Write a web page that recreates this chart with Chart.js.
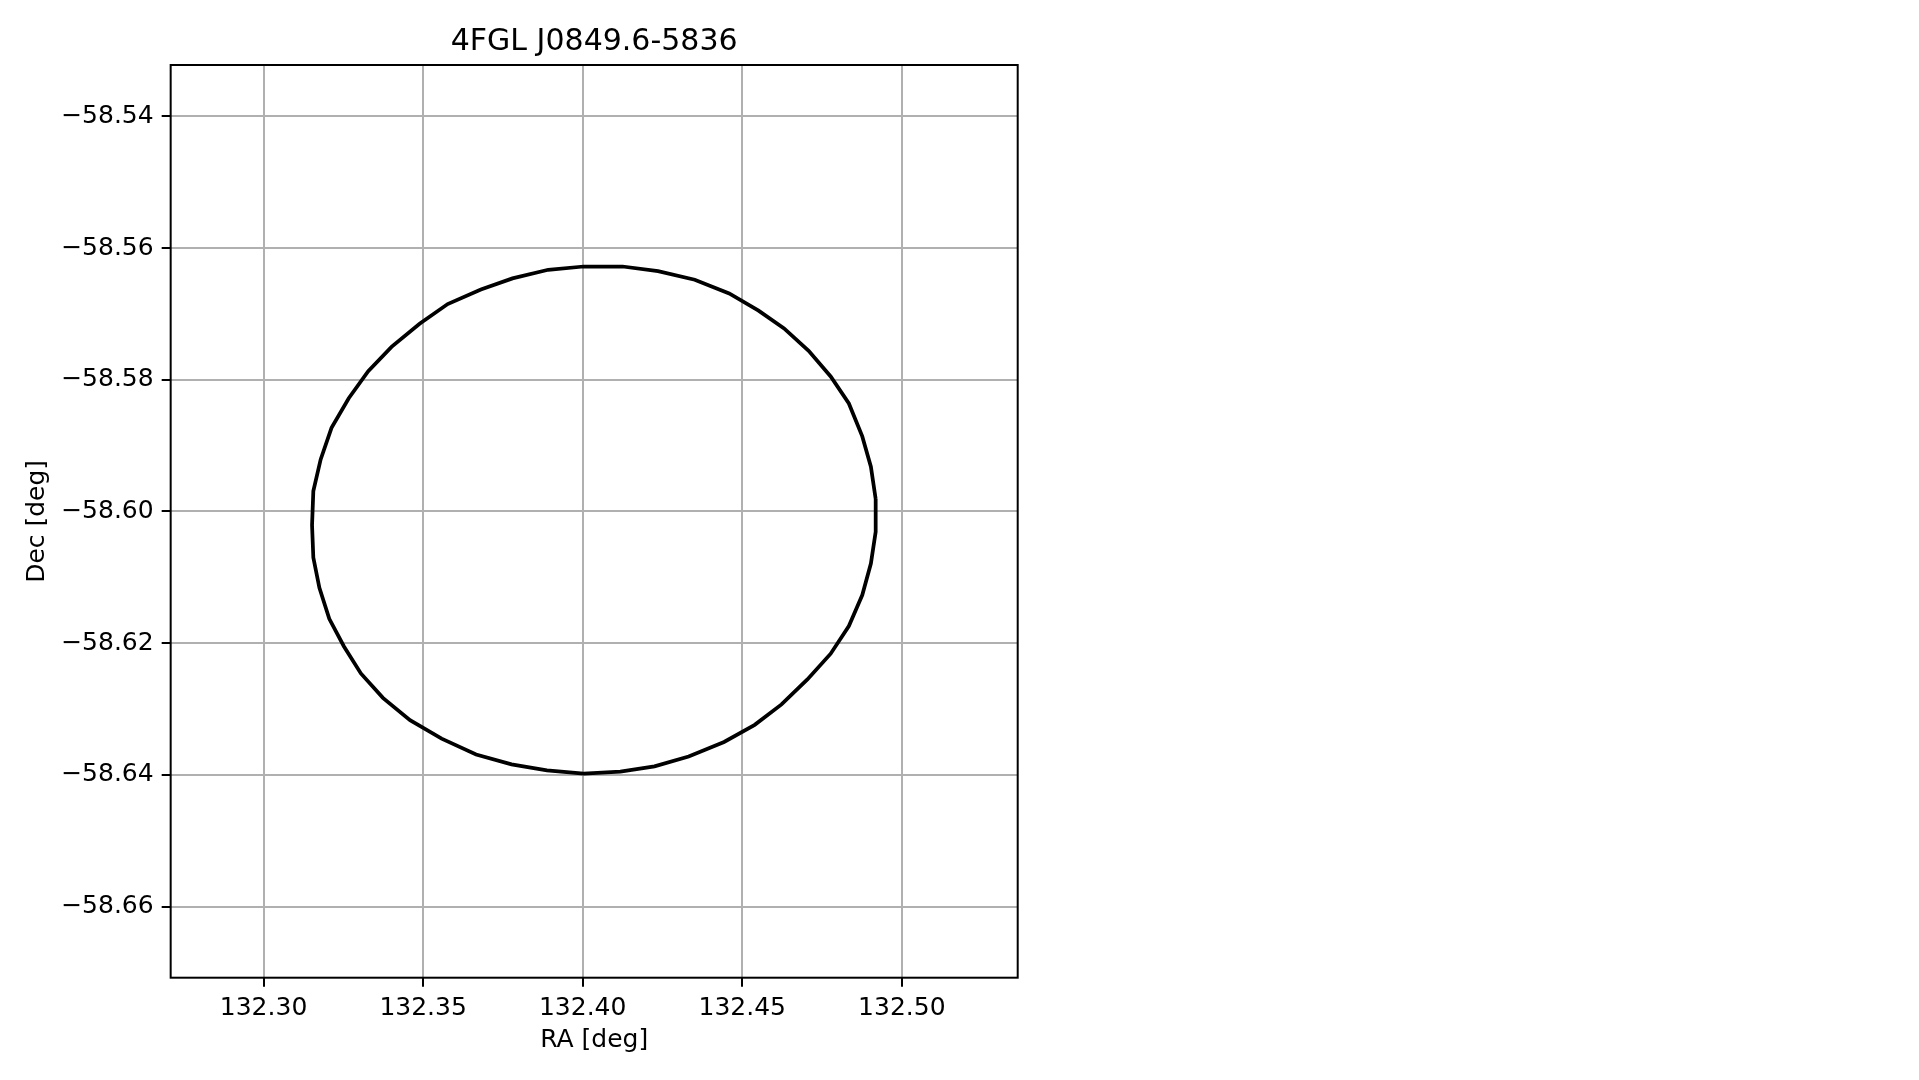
<!DOCTYPE html>
<html>
<head>
<meta charset="utf-8">
<script src="https://cdn.jsdelivr.net/npm/chart.js@4"></script>
<style>
  body { margin: 0; background: #fff; }
  canvas { display: block; }
</style>
</head>
<body>
<canvas id="chart" width="1919" height="1080"></canvas>
<script>
const title = "4FGL J0849.6-5836";

// ellipse outline (closed: last point = first)
const ra = [
  132.4918, 132.4903, 132.4876, 132.4834, 132.4777, 132.4708, 132.4631, 132.4551,
  132.4459, 132.4351, 132.4236, 132.4125, 132.4003, 132.3892, 132.3780, 132.3681,
  132.3577, 132.3489, 132.3401, 132.3328, 132.3267, 132.3213, 132.3179, 132.3156,
  132.3152, 132.3156, 132.3175, 132.3206, 132.3252, 132.3305, 132.3374, 132.3459,
  132.3558, 132.3666, 132.3777, 132.3888, 132.4003, 132.4118, 132.4225, 132.4332,
  132.4443, 132.4539, 132.4623, 132.4704, 132.4777, 132.4834, 132.4876, 132.4903,
  132.4918, 132.4918
];
const dec = [
  -58.5981, -58.5932, -58.5886, -58.5836, -58.5795, -58.5756, -58.5722, -58.5695,
  -58.5669, -58.5648, -58.5635, -58.5628, -58.5628, -58.5633, -58.5646, -58.5663,
  -58.5685, -58.5715, -58.5750, -58.5787, -58.5828, -58.5873, -58.5921, -58.5969,
  -58.6021, -58.6070, -58.6116, -58.6163, -58.6205, -58.6246, -58.6283, -58.6317,
  -58.6345, -58.6369, -58.6384, -58.6393, -58.6398, -58.6395, -58.6387, -58.6372,
  -58.6350, -58.6324, -58.6293, -58.6255, -58.6216, -58.6174, -58.6127, -58.6079,
  -58.6031, -58.5981
];

const raTicks = [132.30, 132.35, 132.40, 132.45, 132.50];
const decTicks = [-58.54, -58.56, -58.58, -58.60, -58.62, -58.64, -58.66];
const raLimits = [132.2709, 132.5363];
const decLimits = [-58.6708, -58.5322];

const points = ra.map((x, i) => ({ x: x, y: dec[i] }));

// black box round the plot area, like matplotlib spines
const frame = {
  id: "frame",
  afterDatasetsDraw(chart) {
    const { ctx, chartArea: a } = chart;
    ctx.save();
    ctx.strokeStyle = "#000";
    ctx.lineWidth = 2;
    ctx.strokeRect(a.left, a.top, a.right - a.left, a.bottom - a.top);
    ctx.restore();
  }
};

Chart.defaults.font.family = "'DejaVu Sans', sans-serif";
Chart.defaults.color = "#000";

const gridStyle = {
  color: "#b0b0b0",
  lineWidth: 2,
  tickColor: "#000",
  tickWidth: 2,
  tickLength: 9,
};

const ctx = document.getElementById("chart");
const myChart = new Chart(ctx, {
  type: "scatter",
  data: {
    datasets: [
      {
        data: points,
        showLine: true,
        borderColor: "#000",
        borderWidth: 3.75,
        pointRadius: 0,
        fill: false,
        tension: 0,
      },
    ],
  },
  options: {
    responsive: false,
    animation: false,
    devicePixelRatio: 1,
    layout: {
      padding: { left: 0, right: 901.3, top: 0, bottom: 0 },
    },
    scales: {
      x: {
        type: "linear",
        position: "bottom",
        min: raLimits[0],
        max: raLimits[1],
        afterBuildTicks: (s) => { s.ticks = raTicks.map((v) => ({ value: v })); },
        afterFit: (s) => { s.height = 102.3; },
        ticks: {
          font: { size: 25 },
          color: "#000",
          padding: 6.5,
          maxRotation: 0,
          autoSkip: false,
          callback: (v) => v.toFixed(2),
        },
        grid: gridStyle,
        border: { display: false },
        title: {
          display: true,
          text: "RA [deg]",
          font: { size: 25 },
          color: "#000",
          padding: { top: 0, bottom: 25 },
        },
      },
      y: {
        type: "linear",
        position: "left",
        min: decLimits[0],
        max: decLimits[1],
        afterBuildTicks: (s) => { s.ticks = decTicks.map((v) => ({ value: v })); },
        afterFit: (s) => { s.width = 170.67; },
        ticks: {
          font: { size: 25 },
          color: "#000",
          padding: 8,
          autoSkip: false,
          callback: (v) => (v < 0 ? "\u2212" : "") + Math.abs(v).toFixed(2),
        },
        grid: gridStyle,
        border: { display: false },
        title: {
          display: true,
          text: "Dec [deg]",
          font: { size: 25 },
          color: "#000",
          padding: { top: 22.5, bottom: 0 },
        },
      },
    },
    plugins: {
      legend: { display: false },
      tooltip: { enabled: false },
      title: {
        display: true,
        text: title,
        fullSize: false,
        font: { size: 30, weight: "normal" },
        color: "#000",
        padding: { top: 24.5, bottom: 4.5 },
      },
    },
  },
  plugins: [frame],
});
</script>
</body>
</html>
